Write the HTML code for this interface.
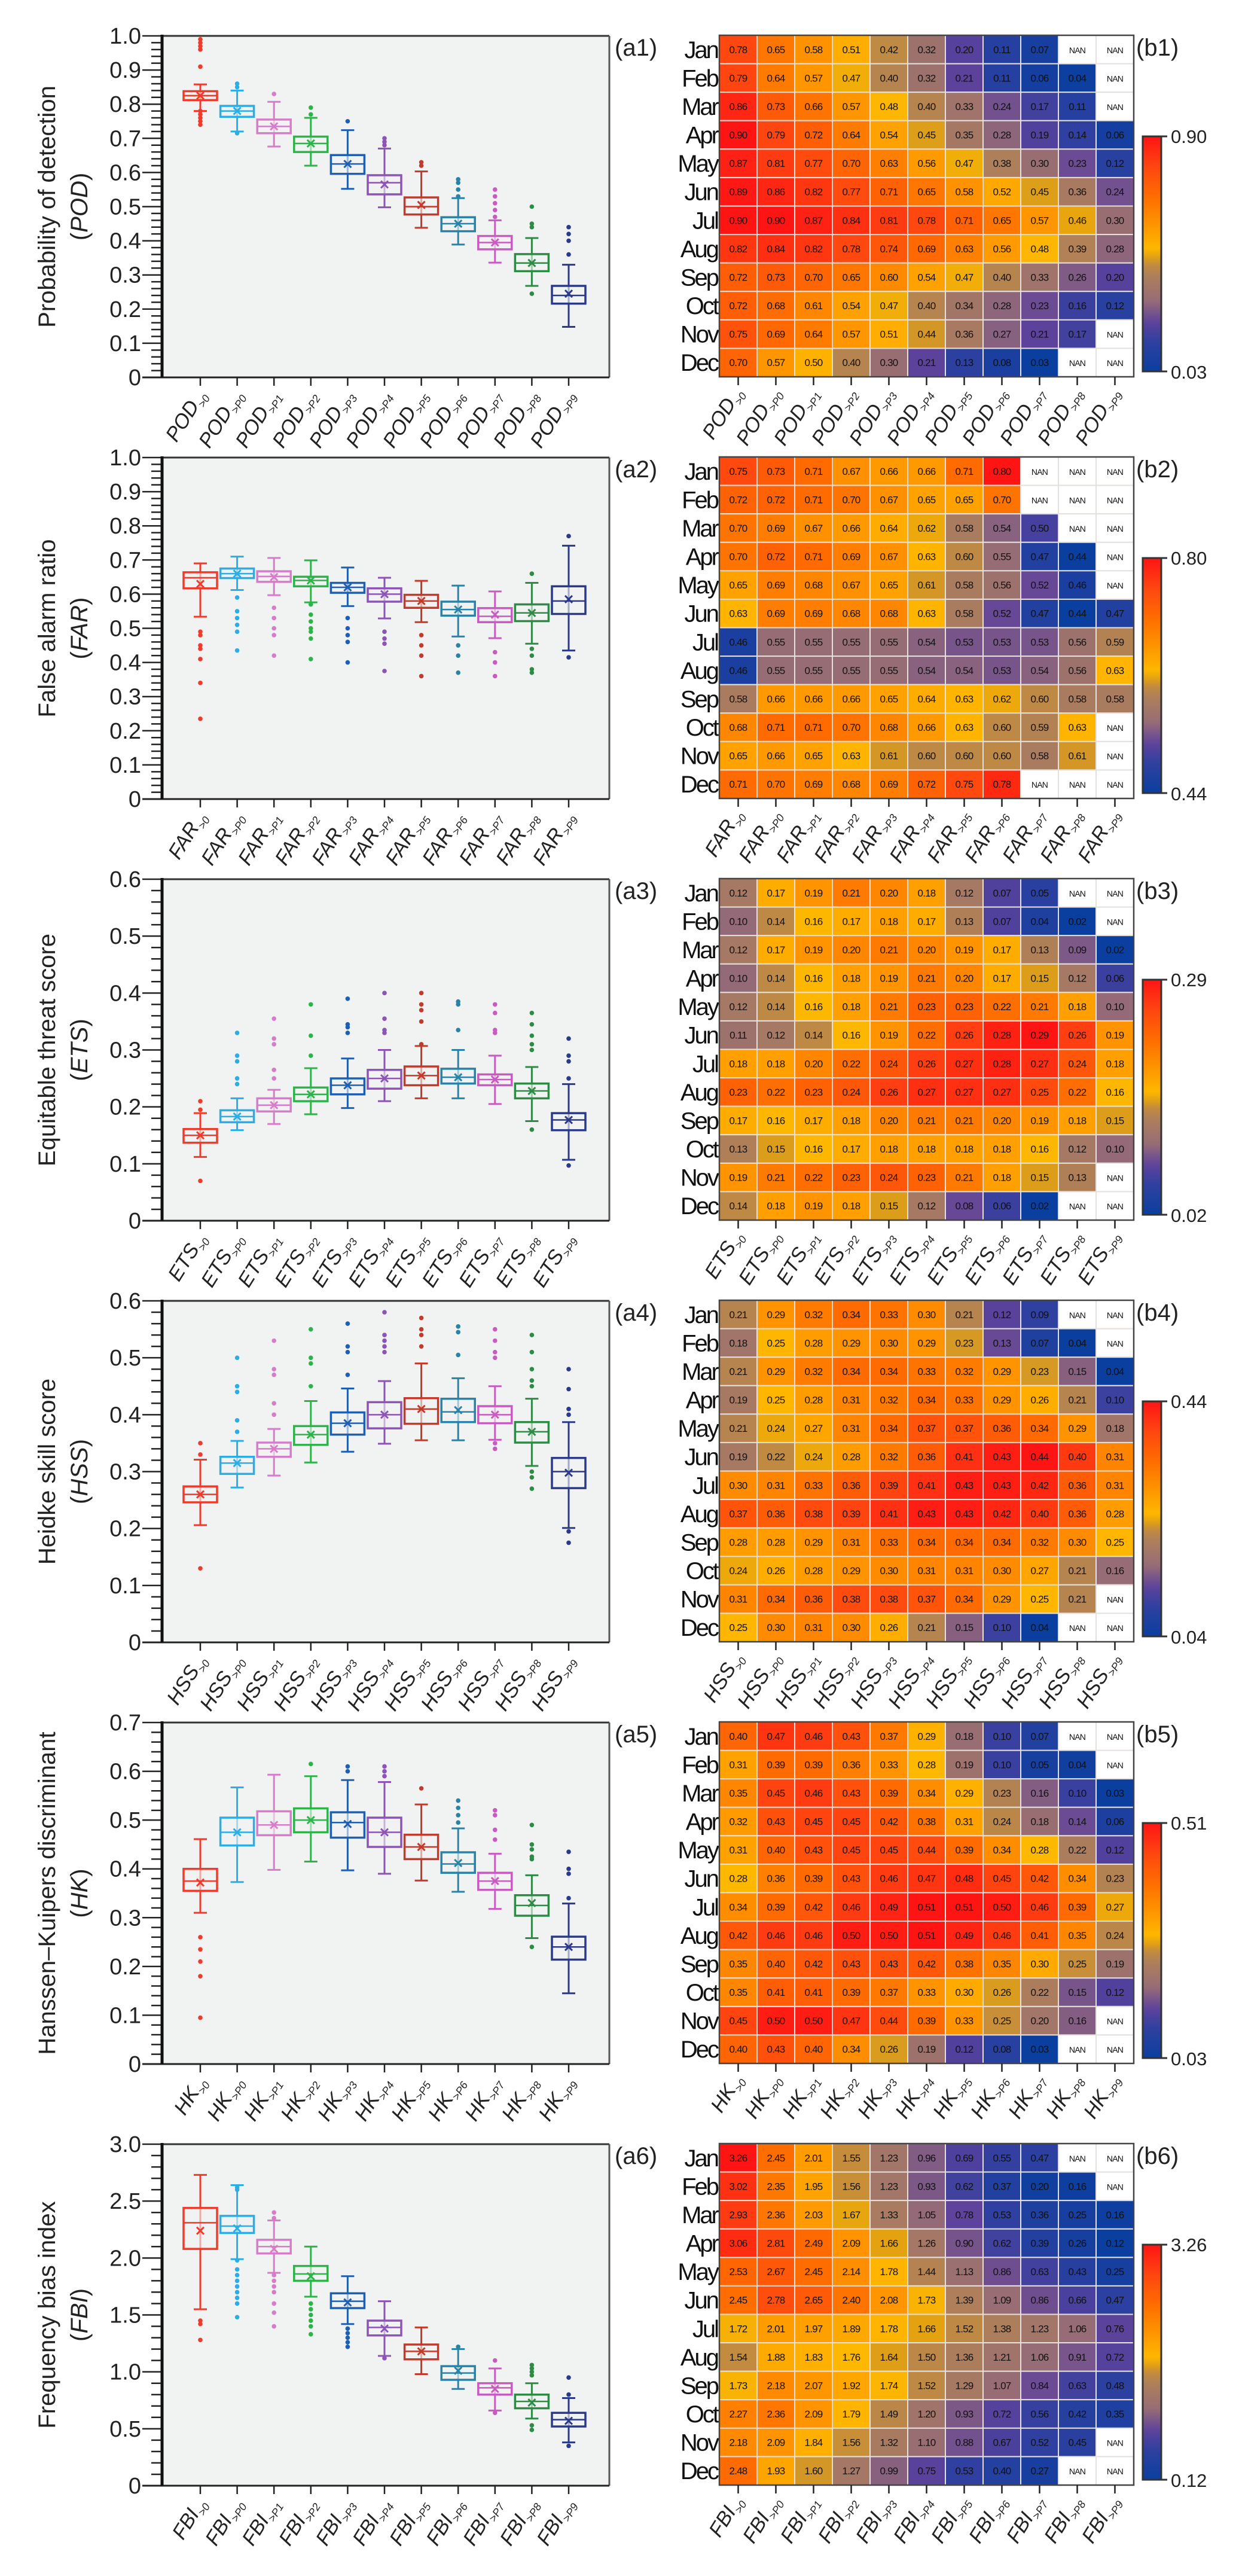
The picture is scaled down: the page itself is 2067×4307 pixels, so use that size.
<!DOCTYPE html>
<html><head><meta charset="utf-8">
<style>
html,body{margin:0;padding:0;background:#fff;}
svg{display:block;font-family:"Liberation Sans",Arial,sans-serif;}
</style></head>
<body>
<svg id="s" width="2067" height="4307" viewBox="0 0 2067 4307" xmlns="http://www.w3.org/2000/svg"></svg>
<script>
const N=null;
const panels=[
{ab:'POD',title:'Probability of detection',ymax:1,major:0.1,minor:0.02,fmt:v=>v===0?'0':v.toFixed(1),
box:[
[0.78,0.812,0.825,0.838,0.858,0.825,[0.91,0.96,0.97,0.98,0.99,0.74,0.75,0.76,0.77,0.78]],
[0.72,0.763,0.78,0.795,0.84,0.78,[0.85,0.86,0.715]],
[0.676,0.715,0.735,0.755,0.807,0.735,[0.83]],
[0.62,0.66,0.685,0.705,0.76,0.685,[0.79,0.77]],
[0.552,0.596,0.625,0.651,0.724,0.625,[0.75]],
[0.498,0.536,0.57,0.592,0.67,0.565,[0.68,0.69,0.70]],
[0.438,0.477,0.50,0.527,0.603,0.505,[0.62,0.63]],
[0.389,0.428,0.45,0.469,0.525,0.45,[0.53,0.55,0.57,0.58]],
[0.336,0.375,0.395,0.414,0.46,0.395,[0.47,0.49,0.51,0.53,0.55]],
[0.268,0.311,0.335,0.361,0.408,0.335,[0.44,0.45,0.50,0.245]],
[0.148,0.216,0.24,0.268,0.33,0.245,[0.36,0.40,0.42,0.44]]],
hm:[[.78,.65,.58,.51,.42,.32,.20,.11,.07,N,N],[.79,.64,.57,.47,.40,.32,.21,.11,.06,.04,N],[.86,.73,.66,.57,.48,.40,.33,.24,.17,.11,N],[.90,.79,.72,.64,.54,.45,.35,.28,.19,.14,.06],[.87,.81,.77,.70,.63,.56,.47,.38,.30,.23,.12],[.89,.86,.82,.77,.71,.65,.58,.52,.45,.36,.24],[.90,.90,.87,.84,.81,.78,.71,.65,.57,.46,.30],[.82,.84,.82,.78,.74,.69,.63,.56,.48,.39,.28],[.72,.73,.70,.65,.60,.54,.47,.40,.33,.26,.20],[.72,.68,.61,.54,.47,.40,.34,.28,.23,.16,.12],[.75,.69,.64,.57,.51,.44,.36,.27,.21,.17,N],[.70,.57,.50,.40,.30,.21,.13,.08,.03,N,N]],
lo:0.03,hi:0.90,lab:['0.90','0.03']},
{ab:'FAR',title:'False alarm ratio',ymax:1,major:0.1,minor:0.02,fmt:v=>v===0?'0':v.toFixed(1),
box:[
[0.534,0.617,0.648,0.664,0.69,0.63,[0.49,0.48,0.45,0.44,0.41,0.34,0.235]],
[0.612,0.647,0.66,0.675,0.71,0.66,[0.59,0.55,0.53,0.51,0.49,0.435]],
[0.597,0.636,0.652,0.667,0.706,0.65,[0.56,0.53,0.50,0.48,0.42]],
[0.576,0.623,0.64,0.651,0.699,0.64,[0.57,0.54,0.52,0.50,0.49,0.47,0.41]],
[0.565,0.604,0.62,0.633,0.678,0.62,[0.53,0.50,0.48,0.46,0.40]],
[0.529,0.578,0.60,0.617,0.648,0.60,[0.49,0.47,0.455,0.375]],
[0.518,0.56,0.58,0.598,0.639,0.58,[0.48,0.45,0.42,0.36]],
[0.476,0.537,0.555,0.578,0.625,0.555,[0.45,0.42,0.37]],
[0.471,0.518,0.535,0.559,0.608,0.54,[0.43,0.40,0.36]],
[0.455,0.521,0.545,0.57,0.633,0.545,[0.66,0.44,0.42,0.38,0.37]],
[0.435,0.542,0.58,0.623,0.742,0.585,[0.77,0.415]]],
hm:[[.75,.73,.71,.67,.66,.66,.71,.80,N,N,N],[.72,.72,.71,.70,.67,.65,.65,.70,N,N,N],[.70,.69,.67,.66,.64,.62,.58,.54,.50,N,N],[.70,.72,.71,.69,.67,.63,.60,.55,.47,.44,N],[.65,.69,.68,.67,.65,.61,.58,.56,.52,.46,N],[.63,.69,.69,.68,.68,.63,.58,.52,.47,.44,.47],[.46,.55,.55,.55,.55,.54,.53,.53,.53,.56,.59],[.46,.55,.55,.55,.55,.54,.54,.53,.54,.56,.63],[.58,.66,.66,.66,.65,.64,.63,.62,.60,.58,.58],[.68,.71,.71,.70,.68,.66,.63,.60,.59,.63,N],[.65,.66,.65,.63,.61,.60,.60,.60,.58,.61,N],[.71,.70,.69,.68,.69,.72,.75,.78,N,N,N]],
lo:0.44,hi:0.80,lab:['0.80','0.44']},
{ab:'ETS',title:'Equitable threat score',ymax:0.6,major:0.1,minor:0.02,fmt:v=>v===0?'0':v.toFixed(1),
box:[
[0.112,0.137,0.15,0.161,0.189,0.15,[0.21,0.195,0.07]],
[0.159,0.173,0.183,0.194,0.215,0.183,[0.24,0.25,0.28,0.29,0.33]],
[0.17,0.192,0.203,0.215,0.23,0.203,[0.25,0.265,0.31,0.32,0.355]],
[0.187,0.21,0.222,0.234,0.268,0.222,[0.29,0.325,0.38]],
[0.198,0.222,0.238,0.25,0.285,0.238,[0.33,0.34,0.345,0.39]],
[0.21,0.232,0.25,0.265,0.30,0.25,[0.33,0.335,0.355,0.40]],
[0.215,0.238,0.255,0.271,0.307,0.255,[0.31,0.35,0.37,0.38,0.40]],
[0.215,0.241,0.252,0.267,0.30,0.252,[0.335,0.38,0.385]],
[0.205,0.238,0.248,0.257,0.29,0.248,[0.33,0.335,0.365,0.38]],
[0.175,0.215,0.228,0.241,0.27,0.228,[0.16,0.30,0.31,0.325,0.345,0.365]],
[0.107,0.159,0.177,0.189,0.24,0.177,[0.097,0.25,0.28,0.29,0.32]]],
hm:[[.12,.17,.19,.21,.20,.18,.12,.07,.05,N,N],[.10,.14,.16,.17,.18,.17,.13,.07,.04,.02,N],[.12,.17,.19,.20,.21,.20,.19,.17,.13,.09,.02],[.10,.14,.16,.18,.19,.21,.20,.17,.15,.12,.06],[.12,.14,.16,.18,.21,.23,.23,.22,.21,.18,.10],[.11,.12,.14,.16,.19,.22,.26,.28,.29,.26,.19],[.18,.18,.20,.22,.24,.26,.27,.28,.27,.24,.18],[.23,.22,.23,.24,.26,.27,.27,.27,.25,.22,.16],[.17,.16,.17,.18,.20,.21,.21,.20,.19,.18,.15],[.13,.15,.16,.17,.18,.18,.18,.18,.16,.12,.10],[.19,.21,.22,.23,.24,.23,.21,.18,.15,.13,N],[.14,.18,.19,.18,.15,.12,.08,.06,.02,N,N]],
lo:0.02,hi:0.29,lab:['0.29','0.02']},
{ab:'HSS',title:'Heidke skill score',ymax:0.6,major:0.1,minor:0.02,fmt:v=>v===0?'0':v.toFixed(1),
box:[
[0.206,0.246,0.26,0.274,0.321,0.26,[0.35,0.33,0.13]],
[0.272,0.296,0.315,0.326,0.354,0.315,[0.37,0.39,0.44,0.45,0.50]],
[0.293,0.326,0.34,0.351,0.375,0.34,[0.40,0.42,0.47,0.48,0.53]],
[0.316,0.347,0.365,0.38,0.424,0.365,[0.45,0.49,0.50,0.55]],
[0.335,0.365,0.385,0.404,0.446,0.385,[0.47,0.51,0.52,0.56]],
[0.349,0.376,0.40,0.422,0.459,0.40,[0.51,0.52,0.53,0.54,0.58]],
[0.355,0.384,0.41,0.429,0.49,0.41,[0.52,0.54,0.55,0.57]],
[0.355,0.387,0.405,0.428,0.464,0.408,[0.505,0.545,0.555]],
[0.356,0.385,0.40,0.415,0.45,0.40,[0.34,0.35,0.50,0.51,0.53,0.55]],
[0.31,0.351,0.37,0.387,0.428,0.37,[0.27,0.29,0.30,0.45,0.46,0.48,0.51,0.54]],
[0.201,0.271,0.30,0.324,0.387,0.298,[0.175,0.195,0.40,0.41,0.445,0.48]]],
hm:[[.21,.29,.32,.34,.33,.30,.21,.12,.09,N,N],[.18,.25,.28,.29,.30,.29,.23,.13,.07,.04,N],[.21,.29,.32,.34,.34,.33,.32,.29,.23,.15,.04],[.19,.25,.28,.31,.32,.34,.33,.29,.26,.21,.10],[.21,.24,.27,.31,.34,.37,.37,.36,.34,.29,.18],[.19,.22,.24,.28,.32,.36,.41,.43,.44,.40,.31],[.30,.31,.33,.36,.39,.41,.43,.43,.42,.36,.31],[.37,.36,.38,.39,.41,.43,.43,.42,.40,.36,.28],[.28,.28,.29,.31,.33,.34,.34,.34,.32,.30,.25],[.24,.26,.28,.29,.30,.31,.31,.30,.27,.21,.16],[.31,.34,.36,.38,.38,.37,.34,.29,.25,.21,N],[.25,.30,.31,.30,.26,.21,.15,.10,.04,N,N]],
lo:0.04,hi:0.44,lab:['0.44','0.04']},
{ab:'HK',title:'Hanssen\u2013Kuipers discriminant',ymax:0.7,major:0.1,minor:0.02,fmt:v=>v===0?'0':v.toFixed(1),
box:[
[0.31,0.355,0.375,0.40,0.461,0.372,[0.26,0.235,0.21,0.18,0.095]],
[0.373,0.448,0.475,0.505,0.567,0.475,[]],
[0.398,0.469,0.49,0.518,0.593,0.49,[]],
[0.415,0.475,0.50,0.524,0.59,0.50,[0.615]],
[0.397,0.464,0.495,0.516,0.582,0.492,[0.60,0.61]],
[0.39,0.445,0.475,0.505,0.578,0.475,[0.59,0.60,0.61]],
[0.376,0.42,0.445,0.47,0.532,0.445,[0.565]],
[0.353,0.392,0.41,0.434,0.483,0.412,[0.495,0.51,0.525,0.54]],
[0.318,0.357,0.375,0.392,0.431,0.375,[0.46,0.48,0.51,0.52]],
[0.258,0.304,0.325,0.346,0.387,0.33,[0.24,0.42,0.425,0.44,0.45,0.49]],
[0.145,0.214,0.24,0.261,0.329,0.24,[0.34,0.39,0.40,0.435]]],
hm:[[.40,.47,.46,.43,.37,.29,.18,.10,.07,N,N],[.31,.39,.39,.36,.33,.28,.19,.10,.05,.04,N],[.35,.45,.46,.43,.39,.34,.29,.23,.16,.10,.03],[.32,.43,.45,.45,.42,.38,.31,.24,.18,.14,.06],[.31,.40,.43,.45,.45,.44,.39,.34,.28,.22,.12],[.28,.36,.39,.43,.46,.47,.48,.45,.42,.34,.23],[.34,.39,.42,.46,.49,.51,.51,.50,.46,.39,.27],[.42,.46,.46,.50,.50,.51,.49,.46,.41,.35,.24],[.35,.40,.42,.43,.43,.42,.38,.35,.30,.25,.19],[.35,.41,.41,.39,.37,.33,.30,.26,.22,.15,.12],[.45,.50,.50,.47,.44,.39,.33,.25,.20,.16,N],[.40,.43,.40,.34,.26,.19,.12,.08,.03,N,N]],
lo:0.03,hi:0.51,lab:['0.51','0.03']},
{ab:'FBI',title:'Frequency bias index',ymax:3,major:0.5,minor:0.1,fmt:v=>v===0?'0':v.toFixed(1),
box:[
[1.55,2.08,2.31,2.44,2.73,2.24,[1.45,1.42,1.28]],
[1.99,2.22,2.28,2.37,2.64,2.26,[1.48,1.6,1.65,1.7,1.75,1.8,1.85,1.9,1.98,2.6,2.62]],
[1.87,2.04,2.10,2.16,2.33,2.08,[1.4,1.52,1.6,1.7,1.75,1.8,1.85,2.35,2.4]],
[1.66,1.80,1.86,1.93,2.10,1.84,[1.33,1.4,1.45,1.5,1.55,1.6]],
[1.42,1.56,1.62,1.69,1.84,1.61,[1.22,1.26,1.3,1.34,1.38]],
[1.14,1.32,1.39,1.45,1.62,1.38,[1.12]],
[0.98,1.11,1.18,1.24,1.39,1.18,[]],
[0.85,0.93,0.99,1.05,1.20,1.01,[1.22]],
[0.66,0.80,0.86,0.90,1.03,0.85,[1.10,0.64]],
[0.59,0.68,0.74,0.80,0.90,0.73,[0.97,1.0,1.03,1.06,0.49,0.53]],
[0.38,0.52,0.58,0.64,0.77,0.57,[0.95,0.80,0.35]]],
hm:[[3.26,2.45,2.01,1.55,1.23,0.96,0.69,0.55,0.47,N,N],[3.02,2.35,1.95,1.56,1.23,0.93,0.62,0.37,0.20,0.16,N],[2.93,2.36,2.03,1.67,1.33,1.05,0.78,0.53,0.36,0.25,0.16],[3.06,2.81,2.49,2.09,1.66,1.26,0.90,0.62,0.39,0.26,0.12],[2.53,2.67,2.45,2.14,1.78,1.44,1.13,0.86,0.63,0.43,0.25],[2.45,2.78,2.65,2.40,2.08,1.73,1.39,1.09,0.86,0.66,0.47],[1.72,2.01,1.97,1.89,1.78,1.66,1.52,1.38,1.23,1.06,0.76],[1.54,1.88,1.83,1.76,1.64,1.50,1.36,1.21,1.06,0.91,0.72],[1.73,2.18,2.07,1.92,1.74,1.52,1.29,1.07,0.84,0.63,0.48],[2.27,2.36,2.09,1.79,1.49,1.20,0.93,0.72,0.56,0.42,0.35],[2.18,2.09,1.84,1.56,1.32,1.10,0.88,0.67,0.52,0.45,N],[2.48,1.93,1.60,1.27,0.99,0.75,0.53,0.40,0.27,N,N]],
lo:0.12,hi:3.26,lab:['3.26','0.12']}
];
const cols=['#ee3b2b','#29aee6','#d77cc9','#2db34a','#1f5fb0','#8c54b4','#c43a2a','#2784a8','#c85bbf','#2e8a45','#2a3a8a'];
const subs=['&gt;0','&gt;P0','&gt;P1','&gt;P2','&gt;P3','&gt;P4','&gt;P5','&gt;P6','&gt;P7','&gt;P8','&gt;P9'];
const months=['Jan','Feb','Mar','Apr','May','Jun','Jul','Aug','Sep','Oct','Nov','Dec'];
const stops=[[0,[10,63,160]],[0.13,[48,64,160]],[0.21,[95,66,155]],[0.30,[150,108,118]],[0.40,[172,126,92]],[0.45,[192,138,66]],[0.49,[228,162,16]],[0.52,[255,184,0]],[0.62,[255,150,0]],[0.74,[255,110,0]],[0.87,[255,70,16]],[1,[255,20,20]]];
function cmap(t){t=Math.max(0,Math.min(1,t));for(let i=1;i<stops.length;i++){if(t<=stops[i][0]){const a=stops[i-1],b=stops[i],f=(t-a[0])/(b[0]-a[0]);const c=a[1].map((v,k)=>Math.round(v+(b[1][k]-v)*f));return `rgb(${c[0]},${c[1]},${c[2]})`;}}return 'rgb(255,20,20)';}
let h='';
h+='<defs><linearGradient id="cb" x1="0" y1="1" x2="0" y2="0">';
for(let i=0;i<=40;i++){h+=`<stop offset="${i/40}" stop-color="${cmap(i/40)}"/>`;}
h+='</linearGradient></defs>';
panels.forEach((p,k)=>{
 const o=k*705, top=60+o, bot=631+o, L=271, R=1019, H=bot-top;
 const Y=v=>bot-v/p.ymax*H;
 h+=`<rect x="${L}" y="${top}" width="${R-L}" height="${H}" fill="#f1f2f2"/>`;
 const nmin=Math.round(p.ymax/p.minor);
 for(let i=0;i<=nmin;i++){const v=i*p.minor,y=Y(v);const isMaj=Math.abs(v/p.major-Math.round(v/p.major))<1e-6;
  h+=`<line x1="${isMaj?238:253}" y1="${y}" x2="${L}" y2="${y}" stroke="#222" stroke-width="2.5"/>`;
  if(isMaj){h+=`<text x="236" y="${y+13}" font-size="38" text-anchor="end" fill="#222">${p.fmt(v)}</text>`;}}
 h+=`<line x1="${L}" y1="${top}" x2="${R}" y2="${top}" stroke="#333" stroke-width="3"/>`;
 h+=`<line x1="${R}" y1="${top}" x2="${R}" y2="${bot}" stroke="#555" stroke-width="3"/>`;
 h+=`<line x1="${238}" y1="${bot}" x2="${R}" y2="${bot}" stroke="#222" stroke-width="3"/>`;
 h+=`<line x1="${L}" y1="${top-2}" x2="${L}" y2="${bot}" stroke="#111" stroke-width="5"/>`;
 const cy=(top+bot)/2;
 h+=`<text transform="translate(92,${cy}) rotate(-90)" font-size="40" text-anchor="middle" fill="#222">${p.title}</text>`;
 h+=`<text transform="translate(146,${cy}) rotate(-90)" font-size="40" text-anchor="middle" fill="#222">(<tspan font-style="italic">${p.ab}</tspan>)</text>`;
 h+=`<text x="1028" y="${top+33}" font-size="40" fill="#222">(a${k+1})</text>`;
 p.box.forEach((b,i)=>{
  const cx=335+i*61.6,c=cols[i],w=56;
  h+=`<line x1="${cx}" y1="${bot}" x2="${cx}" y2="${bot+14}" stroke="#222" stroke-width="2.5"/>`;
  h+=`<line x1="${cx}" y1="${Y(b[0])}" x2="${cx}" y2="${Y(b[4])}" stroke="${c}" stroke-width="3"/>`;
  h+=`<line x1="${cx-11}" y1="${Y(b[0])}" x2="${cx+11}" y2="${Y(b[0])}" stroke="${c}" stroke-width="3"/>`;
  h+=`<line x1="${cx-11}" y1="${Y(b[4])}" x2="${cx+11}" y2="${Y(b[4])}" stroke="${c}" stroke-width="3"/>`;
  h+=`<rect x="${cx-w/2}" y="${Y(b[3])}" width="${w}" height="${Y(b[1])-Y(b[3])}" fill="#f1f2f2" fill-opacity="0.6" stroke="${c}" stroke-width="3.5"/>`;
  h+=`<line x1="${cx-w/2}" y1="${Y(b[2])}" x2="${cx+w/2}" y2="${Y(b[2])}" stroke="${c}" stroke-width="2.5"/>`;
  const my=Y(b[5]);
  h+=`<path d="M${cx-6} ${my-6}L${cx+6} ${my+6}M${cx+6} ${my-6}L${cx-6} ${my+6}" stroke="${c}" stroke-width="3"/>`;
  b[6].forEach(v=>{h+=`<circle cx="${cx}" cy="${Y(v)}" r="3.8" fill="${c}"/>`;});
  h+=`<text transform="translate(${cx+10},${bot+30}) rotate(-58)" text-anchor="end" font-size="34" font-style="italic" fill="#222">${p.ab}<tspan font-size="18" dy="8">${subs[i]}</tspan></text>`;
 });
 const hx=1203,hw=63,hy=59+o,hh=571/12;
 p.hm.forEach((row,r)=>{row.forEach((v,j)=>{
  const x=hx+j*hw,y=hy+r*hh;
  const fill=v===null?'#ffffff':cmap((v-p.lo)/(p.hi-p.lo));
  h+=`<rect x="${x}" y="${y}" width="${hw}" height="${hh}" fill="${fill}" stroke="#e6e0dc" stroke-width="2"/>`;
  const t=v===null?'NAN':v.toFixed(2);
  h+=`<text x="${x+hw/2}" y="${y+hh/2+6}" font-size="${v===null?14:17}" letter-spacing="-0.8" text-anchor="middle" fill="#111">${t}</text>`;
 });
  h+=`<text x="1200" y="${hy+r*hh+hh/2+14}" font-size="40" text-anchor="end" fill="#111" letter-spacing="-3">${months[r]}</text>`;
 });
 h+=`<rect x="${hx}" y="${hy}" width="${hw*11}" height="571" fill="none" stroke="#444" stroke-width="2.5"/>`;
 for(let j=0;j<11;j++){const cx=hx+hw*(j+0.5);
  h+=`<line x1="${cx}" y1="${hy+571}" x2="${cx}" y2="${hy+585}" stroke="#222" stroke-width="2.5"/>`;
  h+=`<text transform="translate(${cx+8},${hy+598}) rotate(-58)" text-anchor="end" font-size="34" font-style="italic" fill="#222">${p.ab}<tspan font-size="18" dy="8">${subs[j]}</tspan></text>`;}
 const cbt=228+o,cbb=621+o;
 h+=`<rect x="1911" y="${cbt}" width="31" height="${cbb-cbt}" fill="url(#cb)" stroke="#333" stroke-width="3"/>`;
 h+=`<line x1="1942" y1="${cbt}" x2="1952" y2="${cbt}" stroke="#333" stroke-width="3"/><line x1="1942" y1="${cbb}" x2="1952" y2="${cbb}" stroke="#333" stroke-width="3"/>`;
 h+=`<text x="1958" y="${cbt+11}" font-size="31" fill="#222">${p.lab[0]}</text>`;
 h+=`<text x="1958" y="${cbb+12}" font-size="31" fill="#222">${p.lab[1]}</text>`;
 h+=`<text x="1900" y="${top+33}" font-size="40" fill="#222">(b${k+1})</text>`;
});
document.getElementById('s').innerHTML=h;
</script>
</body></html>
